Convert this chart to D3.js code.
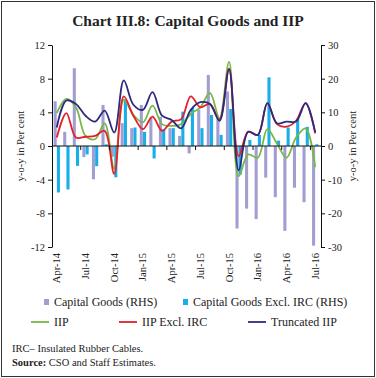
<!DOCTYPE html>
<html>
<head>
<meta charset="utf-8">
<script src="https://cdn.jsdelivr.net/npm/d3@7"></script>
<style>
  body { margin: 0; background: #fff; }
  svg { display: block; font-family: "Liberation Serif", serif; }
</style>
</head>
<body>
<script>
// months on the x axis
var months = ['Apr-14','May-14','Jun-14','Jul-14','Aug-14','Sep-14','Oct-14','Nov-14','Dec-14',
  'Jan-15','Feb-15','Mar-15','Apr-15','May-15','Jun-15','Jul-15','Aug-15','Sep-15','Oct-15','Nov-15','Dec-15',
  'Jan-16','Feb-16','Mar-16','Apr-16','May-16','Jun-16','Jul-16'];
var monthTicks = ['Apr-14','Jul-14','Oct-14','Jan-15','Apr-15','Jul-15','Oct-15','Jan-16','Apr-16','Jul-16'];

// bars, right hand scale
var capGoods = [13.3, 4.2, 23.1, -3.3, -9.9, 12.2, -3.2, 6.8, 5.3, 12.2, 8.5, 8.7, 5.3, 3.0,
  -2.2, 10.8, 21.1, 8.3, 16.2, -24.5, -18.6, -21.7, -9.4, -15.2, -25.2, -12.4, -16.7, -29.6];
var capGoodsExIRC = [-13.8, -12.9, -5.9, -2.5, -6.0, 0.5, -9.3, 13.8, 5.5, 4.2, -3.7, 5.0, 5.3, 10.2,
  11.3, 5.3, 9.2, 3.3, 11.0, -8.5, 1.8, 3.3, 20.4, 1.6, 5.5, 8.0, 5.7, 0.5];

// lines, left hand scale
var iip = [3.9, 5.6, 4.6, 1.2, 0.8, 2.7, -2.7, 5.5, 3.7, 2.8, 4.8, 2.6, 2.4, 2.6,
  3.8, 4.6, 6.3, 3.3, 10.0, -3.6, -1.0, -1.4, 2.0, 0.3, -1.4, 1.0, 2.1, -2.5];
var iipExIRC = [1.0, 3.9, 1.0, 1.1, 1.2, 1.8, -3.3, 5.9, 3.6, 2.0, 3.5, 1.8, 2.9, 3.2,
  5.9, 4.6, 5.0, 3.1, 9.2, -1.2, 1.7, 1.3, 5.1, 2.6, 2.3, 3.0, 5.1, 1.5];
var truncIIP = [2.2, 5.4, 5.0, 3.6, 2.9, 4.2, 1.6, 7.8, 4.9, 4.3, 6.4, 3.6, 3.1, 2.1,
  4.3, 5.2, 5.0, 3.0, 9.1, -2.9, 1.7, 1.3, 5.1, 2.7, 2.9, 2.9, 5.1, 1.6];

var leftTicks = [-12, -8, -4, 0, 4, 8, 12];
var rightTicks = [-30, -20, -10, 0, 10, 20, 30];

var w = 376, h = 378;
var padL = 52, padR = 320, padT = 45, padB = 247;

var svg = d3.select('body').append('svg')
  .attr('width', w)
  .attr('height', h);

svg.append('rect')
  .attr('x', 1.5).attr('y', 1.5)
  .attr('width', w - 3).attr('height', h - 3)
  .attr('fill', 'none')
  .attr('stroke', '#333');

svg.append('text')
  .attr('x', w / 2).attr('y', 26)
  .attr('text-anchor', 'middle')
  .style('font-size', '15.5px')
  .style('font-weight', 'bold')
  .attr('fill', '#222')
  .text('Chart III.8: Capital Goods and IIP');

var x = d3.scaleBand().domain(months).range([padL, padR]);
var xInner = d3.scaleBand().domain(['cg', 'cgx']).range([0, x.bandwidth()])
  .paddingInner(0.05).paddingOuter(0.5);
var yL = d3.scaleLinear().domain([-12, 12]).range([padB, padT]);
var yR = d3.scaleLinear().domain([-30, 30]).range([padB, padT]);

var colors = {
  cg: '#a19ed2',
  cgx: '#19aee8',
  iip: '#77b844',
  ex: '#e3202b',
  tr: '#2c2b7d'
};

// bars
function drawBars(values, key) {
  svg.append('g').selectAll('rect')
    .data(values)
    .enter()
    .append('rect')
    .attr('x', function(d, i){ return x(months[i]) + xInner(key); })
    .attr('width', xInner.bandwidth())
    .attr('y', function(d){ return yR(Math.max(0, d)); })
    .attr('height', function(d){ return Math.abs(yR(d) - yR(0)); })
    .attr('fill', colors[key]);
}
drawBars(capGoods, 'cg');
drawBars(capGoodsExIRC, 'cgx');

// lines
var line = d3.line()
  .x(function(d, i){ return x(months[i]) + x.bandwidth() / 2; })
  .y(function(d){ return yL(d); })
  .curve(d3.curveCatmullRom.alpha(0.5));

[[iip, 'iip'], [iipExIRC, 'ex'], [truncIIP, 'tr']].forEach(function(s){
  svg.append('path')
    .datum(s[0])
    .attr('d', line)
    .attr('fill', 'none')
    .attr('stroke', colors[s[1]])
    .attr('stroke-width', 1.8);
});

// axes
var fmt = function(d){ return String(d); };
var axL = svg.append('g')
  .attr('transform', 'translate(' + padL + ',0)')
  .call(d3.axisLeft(yL).tickValues(leftTicks).tickSize(4).tickSizeOuter(0).tickPadding(3).tickFormat(fmt));
var axR = svg.append('g')
  .attr('transform', 'translate(' + (padR + 1) + ',0)')
  .call(d3.axisRight(yR).tickValues(rightTicks).tickSize(4).tickSizeOuter(0).tickPadding(3).tickFormat(fmt));
[axL, axR].forEach(function(a){
  a.selectAll('text').style('font-size', '10.5px').style('font-family', '"Liberation Serif", serif').attr('fill', '#222');
  a.selectAll('line, path').attr('stroke', '#111');
});

// zero line with ticks every quarter
var zeroY = yL(0);
svg.append('line')
  .attr('x1', padL).attr('x2', padR + 1)
  .attr('y1', zeroY).attr('y2', zeroY)
  .attr('stroke', '#111');
svg.append('g').selectAll('line')
  .data(monthTicks.slice(1))
  .enter()
  .append('line')
  .attr('x1', function(d){ return x(d); })
  .attr('x2', function(d){ return x(d); })
  .attr('y1', zeroY).attr('y2', zeroY + 4)
  .attr('stroke', '#111');

svg.append('g').selectAll('text')
  .data(monthTicks)
  .enter()
  .append('text')
  .attr('transform', function(d){
    return 'translate(' + (x(d) + x.bandwidth() / 2 + 3.5) + ',' + (padB + 6) + ') rotate(-90)';
  })
  .attr('text-anchor', 'end')
  .style('font-size', '10.5px')
  .attr('fill', '#222')
  .text(function(d){ return d; });

// axis titles
svg.append('text')
  .attr('transform', 'translate(24,' + zeroY + ') rotate(-90)')
  .attr('text-anchor', 'middle')
  .style('font-size', '10.5px')
  .attr('fill', '#222')
  .text('y-o-y in Per cent');
svg.append('text')
  .attr('transform', 'translate(356,' + zeroY + ') rotate(-90)')
  .attr('text-anchor', 'middle')
  .style('font-size', '10.5px')
  .attr('fill', '#222')
  .text('y-o-y in Per cent');

// legend
var legendBars = [
  { label: 'Capital Goods (RHS)', key: 'cg', x: 44 },
  { label: 'Capital Goods Excl. IRC (RHS)', key: 'cgx', x: 183 }
];
var legendLines = [
  { label: 'IIP', key: 'iip', x: 31 },
  { label: 'IIP Excl. IRC', key: 'ex', x: 119 },
  { label: 'Truncated IIP', key: 'tr', x: 248 }
];
legendBars.forEach(function(l){
  svg.append('rect')
    .attr('x', l.x).attr('y', 299).attr('width', 5).attr('height', 6)
    .attr('fill', colors[l.key]);
  svg.append('text')
    .attr('x', l.x + 10).attr('y', 306)
    .style('font-size', '12px').attr('fill', '#222')
    .text(l.label);
});
legendLines.forEach(function(l){
  svg.append('line')
    .attr('x1', l.x).attr('x2', l.x + 18)
    .attr('y1', 322).attr('y2', 322)
    .attr('stroke', colors[l.key]).attr('stroke-width', 1.8);
  svg.append('text')
    .attr('x', l.x + 23).attr('y', 326)
    .style('font-size', '12px').attr('fill', '#222')
    .text(l.label);
});

// notes
svg.append('text')
  .attr('x', 12).attr('y', 352)
  .style('font-size', '10.5px').attr('fill', '#222')
  .text('IRC\u2013 Insulated Rubber Cables.');
var src = svg.append('text')
  .attr('x', 12).attr('y', 366)
  .style('font-size', '10.5px').attr('fill', '#222');
src.append('tspan').style('font-weight', 'bold').text('Source:');
src.append('tspan').text(' CSO and Staff Estimates.');
</script>
</body>
</html>
